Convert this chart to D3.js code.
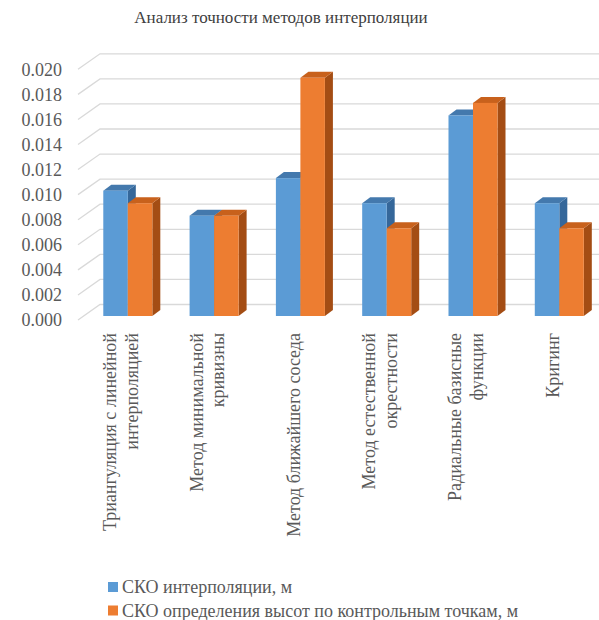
<!DOCTYPE html>
<html>
<head>
<meta charset="utf-8">
<script src="https://cdn.jsdelivr.net/npm/d3@7"></script>
</head>
<body>
<script>
// Data
const categories = [
  ["Триангуляция с линейной", "интерполяцией"],
  ["Метод минимальной", "кривизны"],
  ["Метод ближайшего соседа"],
  ["Метод естественной", "окрестности"],
  ["Радиальные базисные", "функции"],
  ["Кригинг"]
];
const seriesNames = ["СКО интерполяции, м", "СКО определения высот по контрольным точкам, м"];
const interpRMSE  = [0.010, 0.008, 0.011, 0.009, 0.016, 0.009];
const controlRMSE = [0.009, 0.008, 0.019, 0.007, 0.017, 0.007];
const yTicks = [0, 0.002, 0.004, 0.006, 0.008, 0.010, 0.012, 0.014, 0.016, 0.018, 0.020];
const title = "Анализ точности методов интерполяции";

const W = 599, H = 620;
const serifFont = '"Liberation Serif", monospace';
const textColor = "#595959";

const colors = [
  { front: "#5b9bd5", top: "#4479ad", side: "#35679a" },
  { front: "#ed7d31", top: "#c8611c", side: "#a44d14" }
];

d3.select("body").style("margin", "0px");
const svg = d3.select("body").append("svg").attr("width", W).attr("height", H)
  .style("display", "block");

const keys = categories.map(c => c.join(" "));
const rows = keys.map((k, i) => ({ key: k, lines: categories[i], values: [interpRMSE[i], controlRMSE[i]] }));

// Scales: front plane (axis labels), back wall offset, bar front offset
const yFront = d3.scaleLinear().domain([0, 0.02]).range([320, 69.3]);
const wallDX = 22, wallDY = -15.5;
const barDY = -4;
const depthDX = 8, depthDY = -6;

const x0 = d3.scaleBand().domain(keys).range([84.65, 602.45]).paddingInner(0.432).paddingOuter(0.216);
const x1 = d3.scaleBand().domain([0, 1]).range([0, x0.bandwidth()]);

// Title
svg.append("text")
  .attr("x", 281).attr("y", 23)
  .attr("text-anchor", "middle")
  .attr("font-size", 17)
  .style("font-family", serifFont)
  .attr("fill", "#404040")
  .text(title);

// Gridlines: back wall horizontals plus the side-wall diagonals
const grid = svg.append("g").attr("stroke", "#d9d9d9").attr("stroke-width", 1.3).attr("fill", "none");
yTicks.forEach(t => {
  const yf = yFront(t);
  grid.append("path")
    .attr("d", `M78,${yf}L${78 + wallDX},${yf + wallDY}L${W},${yf + wallDY}`);
});

// Y axis labels
svg.append("g").selectAll("text").data(yTicks).join("text")
  .attr("x", 62).attr("y", d => yFront(d))
  .attr("dy", "0.35em")
  .attr("text-anchor", "end")
  .attr("font-size", 18)
  .style("font-family", serifFont)
  .attr("fill", textColor)
  .text(d => d3.format(".3f")(d));

// 3D columns
const yBar = v => yFront(v) + barDY;
const bw = x1.bandwidth();
const groups = svg.append("g").selectAll("g").data(rows).join("g")
  .attr("transform", d => `translate(${x0(d.key)},0)`);

groups.each(function (d) {
  const g = d3.select(this);
  d.values.forEach((v, s) => {
    const x = x1(s), y0 = yBar(0), yt = yBar(v), c = colors[s];
    g.append("path").attr("fill", c.side)
      .attr("d", `M${x + bw},${yt}L${x + bw + depthDX},${yt + depthDY}L${x + bw + depthDX},${y0 + depthDY}L${x + bw},${y0}Z`);
    g.append("path").attr("fill", c.top)
      .attr("d", `M${x},${yt}L${x + depthDX},${yt + depthDY}L${x + bw + depthDX},${yt + depthDY}L${x + bw},${yt}Z`);
    g.append("rect").attr("fill", c.front)
      .attr("x", x).attr("y", yt).attr("width", bw).attr("height", y0 - yt);
  });
});

// Category labels, rotated
const lh = 21.7;
svg.append("g").selectAll("text").data(rows).join("text")
  .attr("transform", d => `translate(${x0(d.key) + x0.bandwidth() / 2 - 7},333) rotate(-90)`)
  .attr("text-anchor", "end")
  .attr("font-size", 18)
  .style("font-family", serifFont)
  .attr("fill", textColor)
  .each(function (d) {
    const t = d3.select(this);
    const n = d.lines.length;
    d.lines.forEach((line, i) => {
      t.append("tspan").attr("x", 0)
        .attr("y", (i - (n - 1) / 2) * lh)
        .attr("dy", "0.35em")
        .text(line);
    });
  });

// Legend
const legend = svg.append("g").selectAll("g").data(seriesNames).join("g")
  .attr("transform", (d, i) => `translate(108,${587 + i * 23.5})`);
legend.append("rect").attr("x", 0).attr("y", -5).attr("width", 10).attr("height", 10)
  .attr("fill", (d, i) => colors[i].front);
legend.append("text").attr("x", 14).attr("y", 0).attr("dy", "0.35em")
  .attr("font-size", 18)
  .style("font-family", serifFont)
  .attr("fill", textColor)
  .text(d => d);
</script>
</body>
</html>
